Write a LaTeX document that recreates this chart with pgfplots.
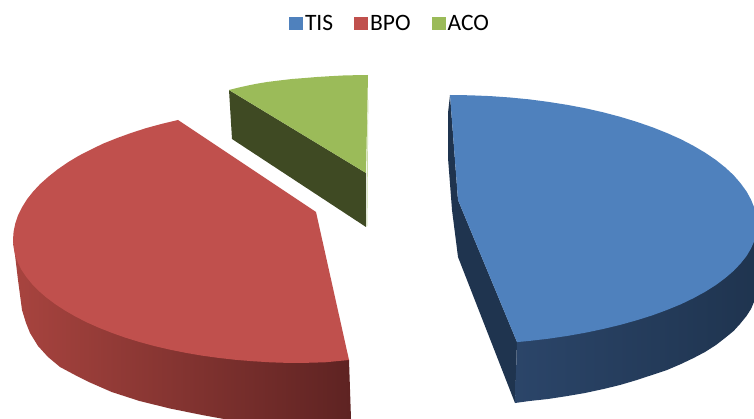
\documentclass[border=0pt]{standalone}
\usepackage{pgfplots}
\pgfplotsset{compat=1.18}
\usepackage{fontspec}
\setmainfont{Carlito}
\definecolor{tisTop}{HTML}{4F81BD}
\definecolor{tisSide}{HTML}{1F344F}
\definecolor{tisSideLight}{HTML}{2B4569}
\definecolor{bpoTop}{HTML}{C0504D}
\definecolor{bpoLeft}{HTML}{A8443F}
\definecolor{bpoMid}{HTML}{893736}
\definecolor{bpoRight}{HTML}{5E2322}
\definecolor{acoTop}{HTML}{9BBB59}
\definecolor{acoSide}{HTML}{3F4A23}
\begin{document}
\begin{tikzpicture}
\useasboundingbox (0,0) rectangle (754pt,419pt);
\begin{axis}[
  at={(0,0)}, anchor=south west,
  width=754pt, height=419pt, scale only axis,
  xmin=0, xmax=754, ymin=0, ymax=419, y dir=reverse,
  axis lines=none, clip=true,
  legend columns=3,
  legend style={
    at={(axis cs:390,24)}, anchor=center, draw=none, fill=none,
    font=\fontsize{23.5}{25}\selectfont, inner sep=0pt,
    /tikz/every even column/.append style={column sep=19pt},
    cells={anchor=west}
  },
  legend image code/.code={
    \fill[#1] (0pt,-6.5pt) rectangle (14pt,6.5pt);
  },
]
% Depth faces of the three slices
\addplot[forget plot, draw=none, fill=tisSide] coordinates {
  (450,95) (448,113) (448,158) (452,210) (458,257) (515,403) (517,342) (458,200)
} --cycle;
\addplot[forget plot, draw=none, left color=tisSideLight, middle color=tisSide, right color=tisSide] coordinates {
  (517,342) (515,403) (529.5,401) (548,399) (567.5,396) (585,393) (603.5,389)
  (620,385) (636.9,380) (652,375) (667,370) (681,364) (693.6,358) (705,352)
  (716,345) (725,338) (733.6,331) (740,324) (746.5,316) (751,309) (754.4,301)
  (757,285) (757,225)
} --cycle;
\addplot[forget plot, draw=none, left color=bpoLeft, middle color=bpoMid, right color=bpoRight] coordinates {
  (13,240) (15,255) (18,280) (22,310) (26,323) (30,333) (38,346) (48,357)
  (60,367) (75,375) (90,382.5) (111.7,392) (139.5,401) (170,408.5) (202,415)
  (235,421) (352,421) (351,419) (349,360)
} --cycle;
\addplot[forget plot, draw=none, fill=acoSide] coordinates {
  (229,90) (232,139) (366,227) (366,173)
} --cycle;
\addplot[forget plot, draw=acoTop!50!white, line width=0.7pt] coordinates {
  (368,100) (367,226)
};
% Top faces, which carry the legend entries
\addplot[draw=none, fill=tisTop] coordinates {
  (450,95) (470,95.3) (490.1,96.1) (510,97.5) (529.5,99.4) (548.5,101.9)
  (567.5,104.9) (586,108.4) (603.5,112.4) (620.5,116.9) (636.9,121.9) (652.5,127.3)
  (667.1,133.1) (681,139.3) (693.6,145.9) (705.3,152.8) (715.9,160) (725.3,167.5)
  (733.6,175.2) (740.5,183.2) (746.5,191.4) (751,199.6) (754.4,208) (756.4,216.5)
  (757,225) (756.4,233) (754.4,240.7) (751,248.5) (746.5,256.1) (740.5,263.6)
  (733.6,270.9) (725.3,278) (715.9,285) (705.3,291.7) (693.6,298.1) (681,304.2)
  (667.1,309.9) (652.5,315.3) (636.9,320.2) (620.5,324.8) (603.5,328.9) (586,332.6)
  (567.5,335.9) (548.5,338.7) (529.5,340.9) (517,342.1) (458,200)
} --cycle;
\addlegendentry{TIS}
\addplot[draw=none, fill=bpoTop] coordinates {
  (178,120) (162,123.8) (146.2,128.1) (131,133) (116.9,138.1) (103,143.7)
  (90.6,149.7) (78.5,155.9) (67.6,162.5) (57.5,169.5) (48.4,176.7) (40.2,184)
  (33,191.7) (27,199.3) (22,207.3) (18,215.3) (15.3,223.5) (13.6,231.5) (13,240)
  (13.6,247.5) (15.1,255) (17.8,262.5) (21.5,269.8) (26.3,277) (32.1,284.1)
  (38.8,291) (46.6,297.7) (55.3,304.2) (65,310.5) (75.4,316.5) (86.7,322.3)
  (98.8,327.7) (111.7,332.8) (125.2,337.6) (139.5,342) (154.2,346) (169.7,349.6)
  (185.5,352.8) (201.8,355.6) (218.5,357.9) (235.4,359.8) (252.6,361.2) (270,362.3)
  (285,362.8) (300,363) (325,362.3) (349,360) (316,212)
} --cycle;
\addlegendentry{BPO}
\addplot[draw=none, fill=acoTop] coordinates {
  (229,90) (238,87.7) (248,85.5) (257,83.7) (267,82) (280,80.4) (292,79) (305,78)
  (317,77) (330,76.2) (343,75.5) (355,75.2) (368,75) (366,173)
} --cycle;
\addlegendentry{ACO}
\end{axis}
\end{tikzpicture}
\end{document}
